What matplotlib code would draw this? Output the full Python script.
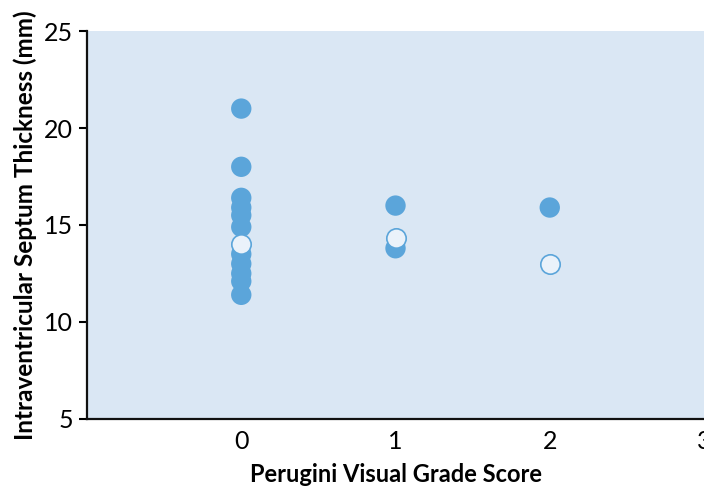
import matplotlib
matplotlib.use('Agg')
import matplotlib.pyplot as plt

# grade 0/1/2, septum thickness (mm)
filled_x = [0, 0, 0, 0, 0, 0, 0, 0, 0, 0, 0, 1, 1, 2]
filled_y = [21.0, 18.0, 16.4, 15.9, 15.5, 14.9, 13.5, 13.0, 12.5, 12.1, 11.4, 16.0, 13.8, 15.9]
open_x = [0, 1, 2]
open_y = [14.0, 14.35, 13.0]

xticks = [0, 1, 2, 3]
yticks = [5, 10, 15, 20, 25]

plt.rcParams['font.family'] = ['Lato', 'DejaVu Sans']

fig = plt.figure(figsize=(7.04, 4.86), dpi=100)
ax = fig.add_axes([0.1236, 0.1379, 0.8764, 0.7983])
ax.set_facecolor('#dae7f4')

ax.scatter(filled_x, filled_y, s=215, color='#5ba5da', edgecolors='none', zorder=3)
ax.scatter(open_x, open_y, s=195, color='#eaf2fa', edgecolors='#5ba5da', linewidths=1.2, zorder=4)

ax.set_xlim(-1, 3.0)
ax.set_ylim(5, 25)
ax.set_xticks(xticks)
ax.set_yticks(yticks)
ax.tick_params(axis='x', length=0, labelsize=18, pad=8)
ax.tick_params(axis='y', length=6, width=1.5, labelsize=18, pad=4)
for s in ['top', 'right']:
    ax.spines[s].set_visible(False)
for s in ['left', 'bottom']:
    ax.spines[s].set_linewidth(1.6)
    ax.spines[s].set_color('#111111')

ax.set_xlabel('Perugini Visual Grade Score', fontsize=17, fontweight='bold', labelpad=7)
ax.set_ylabel('Intraventricular Septum Thickness (mm)', fontsize=17.5, fontweight='bold', labelpad=5)

fig.savefig('out.png', dpi=100)
